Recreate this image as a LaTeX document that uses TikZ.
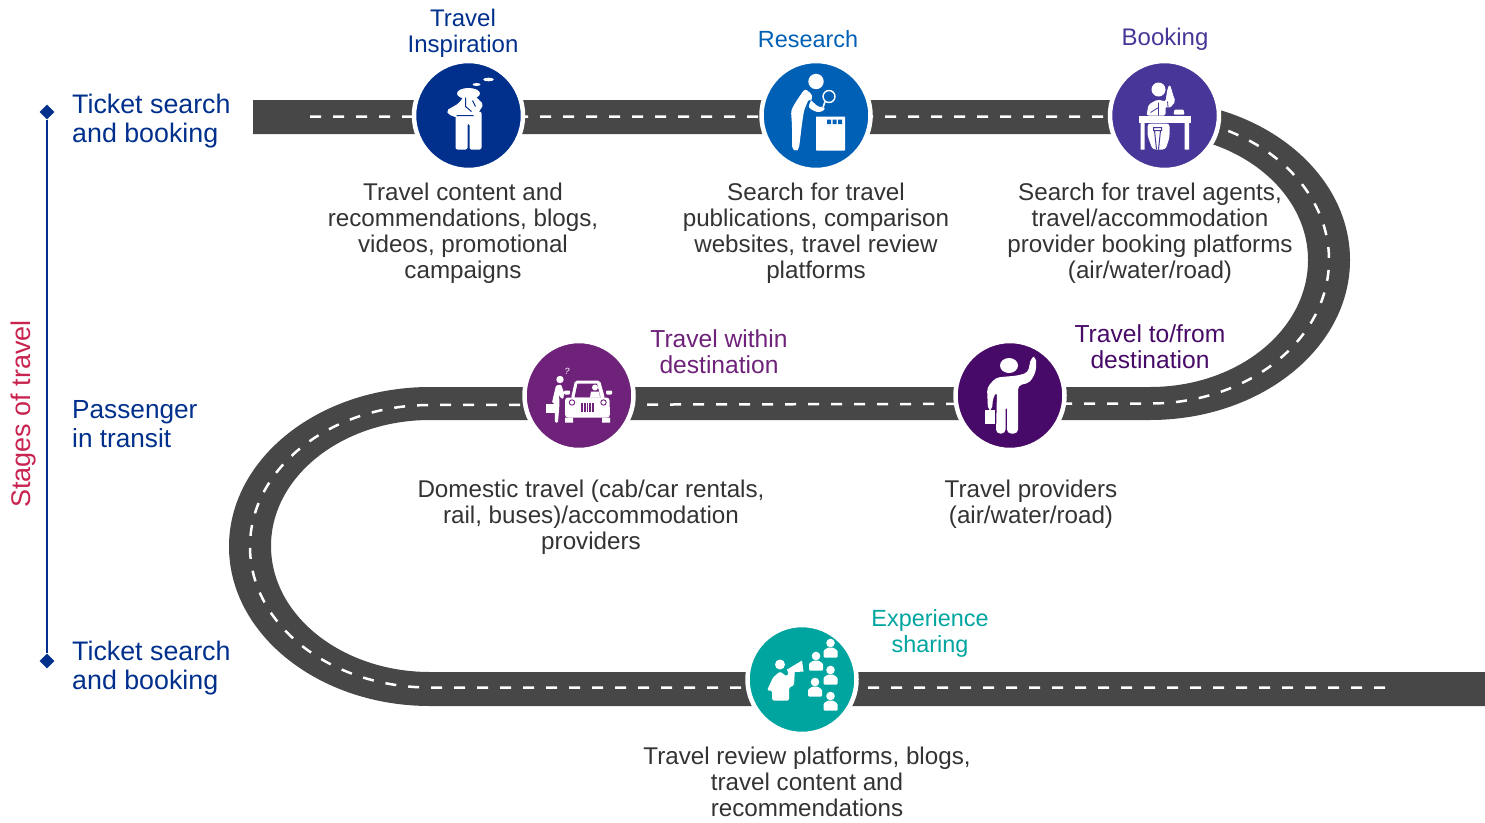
\documentclass[tikz,border=0pt]{standalone}
\usepackage{fontspec}
\setmainfont{Liberation Sans}
\definecolor{navy}{HTML}{00308C}
\definecolor{midblue}{HTML}{0060B5}
\definecolor{violetb}{HTML}{483698}
\definecolor{plum}{HTML}{6E2279}
\definecolor{deepplum}{HTML}{470A68}
\definecolor{tealc}{HTML}{00A5A0}
\definecolor{roadc}{HTML}{474747}
\definecolor{bodytext}{HTML}{333333}
\definecolor{stagered}{HTML}{C8244F}
\newcommand{\audmember}[2]{%
  \begin{scope}[shift={(#1,#2)}]
    \fill[white] (0,-4.5) circle [radius=4.3];
    \fill[white,rounded corners=1pt] (-7,10) -- (-7,3) -- (-2.5,0) -- (2.5,0) -- (7,3) -- (7,10) -- cycle;
  \end{scope}}
\tikzset{
  x=1pt,y=-1pt,
  disc/.style={circle,draw=white,line width=4.5pt,minimum size=109pt,inner sep=0pt},
  desc/.style={align=center,text=bodytext,font=\fontsize{24.2}{26}\selectfont,inner sep=0pt},
  head/.style={align=center,font=\fontsize{24}{26}\selectfont,inner sep=0pt},
  stagelabel/.style={align=left,anchor=west,text=navy,font=\fontsize{26.8}{29}\selectfont,inner sep=0pt},
  endmark/.style={diamond,fill=navy,minimum size=15pt,inner sep=0pt},
  lane/.style={white,line width=2.5pt,dash pattern=on 11pt off 12pt},
}
\usetikzlibrary{shapes.geometric}
\begin{document}
\begin{tikzpicture}
\useasboundingbox (0,0) rectangle (1485,822);
% road
\fill[roadc] (253,100) -- (1150,100)
  .. controls (1260.5,100) and (1350,171.6) .. (1350,260)
  .. controls (1350,348.4) and (1260.5,420) .. (1150,420)
  -- (430,420)
  .. controls (342.2,420) and (271,476.4) .. (271,546)
  .. controls (271,615.6) and (342.2,672) .. (430,672)
  -- (1485,672) -- (1485,706) -- (430,706)
  .. controls (319,706) and (229,634.6) .. (229,546.5)
  .. controls (229,458.4) and (319,387) .. (430,387)
  -- (1150,387)
  .. controls (1237.3,387) and (1308,330.4) .. (1308,260)
  .. controls (1308,190.4) and (1237.3,134) .. (1150,134)
  -- (253,134) -- cycle;
\draw[lane] (310,116.5) -- (1150,116.5)
  .. controls (1248.9,116.5) and (1329,181) .. (1329,260)
  .. controls (1329,339) and (1248.9,403.5) .. (1150,403.5)
  -- (430,405)
  .. controls (330.6,405) and (250,468) .. (250,546.5)
  .. controls (250,625) and (330.6,687.5) .. (430,687.5)
  -- (1390,687.5);
% discs
\node[disc,fill=navy] (insp) at (468.5,115.5) {};
\node[disc,fill=midblue] (res) at (816,115.5) {};
\node[disc,fill=violetb] (book) at (1164.5,115.5) {};
\node[disc,fill=plum] (within) at (579,395.5) {};
\node[disc,fill=deepplum] (tofrom) at (1010,395.5) {};
\node[disc,fill=tealc] (share) at (802,679.5) {};
% icon 1: thinking man
\begin{scope}[shift={(insp.center)}]
  \fill[white] (20,-36) ellipse [x radius=5.3,y radius=1.8];
  \fill[white] (8,-31) ellipse [x radius=4,y radius=1.4];
  \fill[white] (0,-22) ellipse [x radius=11.5,y radius=5.5];
  \fill[white,rounded corners=2pt] (-13,-4) -- (-13,34) -- (-1,34) -- (-1,8) -- (1,8) -- (1,34) -- (13,34) -- (13,-4) -- cycle;
  \fill[white,rounded corners=2pt] (-22,-5) -- (-10,-12) -- (-4,-20) -- (6,-20) -- (15,-11) -- (10,-3) -- (5,2) -- (-12,2) -- (-20,-1) -- cycle;
  \draw[navy,line width=1pt] (-3,-18) -- (-3,-9) -- (3,-4) (4,-15) -- (7,-9) (-12,0) -- (5,0);
\end{scope}
% icon 2: researcher
\begin{scope}[shift={(res.center)}]
  \fill[white] (0,-34) circle [radius=7.7];
  \fill[white,rounded corners=3pt] (-11,-27) -- (-20,-14) -- (-25,-5) -- (-24,10) -- (-24,33) -- (-20,36) -- (-17,33) -- (-14,8) -- (-12,-5) -- (-7,-17) -- (3,-8) -- (8,-9) -- (9,-5) -- (1,-3) -- (-8,-8) -- (-3,-20) -- cycle;
  \draw[white,line width=1.4pt] (13,-19) circle [radius=6];
  \draw[white,line width=1.6pt] (9,-14) -- (7,-8);
  \fill[white,rounded corners=.7pt] (0,1) rectangle (29,35);
  \fill[midblue] (11,4) rectangle (15,8.5) (16.5,4) rectangle (20.5,8.5) (22,4) rectangle (26,8.5);
\end{scope}
% icon 3: booking desk
\begin{scope}[shift={(book.center)}]
  \fill[white] (-6,-26) circle [radius=7];
  \fill[white,rounded corners=2pt] (-18,0) -- (-16,-11) -- (-7,-16) -- (1,-14) -- (3,-27) -- (5,-31) -- (7,-27) -- (8,-22) -- (11,-14) -- (5,-7) -- (1,-9) -- (1,0) -- cycle;
  \draw[violetb,line width=.8pt] (-6,-13) -- (-6,0) (-14,-3) -- (-6,-8) (3,-14) -- (4,-3) -- (10,-3);
  \fill[white,rounded corners=1pt] (9,-1) -- (10,-6) -- (19,-6) -- (20,-1) -- cycle;
  \fill[white] (-26,0) rectangle (26,7);
  \fill[white] (-24,7) rectangle (-20,34) (20,7) rectangle (24.5,34);
  \fill[white,rounded corners=3pt] (-17,8) -- (5,8) -- (5,22) -- (1,34) -- (-12,34) -- (-17,20) -- cycle;
  \draw[violetb,line width=1pt] (-11,12) rectangle (-3,15) (-10,15) -- (-8,34) (-4,15) -- (-6,34);
\end{scope}
% icon 4: person and car
\begin{scope}[shift={(within.center)}]
  \fill[white] (-19,-16) circle [radius=3.7];
  \node[white,font=\fontsize{9}{9}\selectfont\itshape,inner sep=0pt] (quest) at (-12,-24) {?};
  \fill[white,rounded corners=1pt] (-23,-10) -- (-18,-11) -- (-15,-3) -- (-15.5,3) -- (-18,3) -- (-20,-1) -- (-19.5,8) -- (-21,27) -- (-24,27) -- (-24.5,8) -- (-27,7) -- cycle;
  \fill[white] (-33.5,8) rectangle (-24.5,17.5);
  \fill[white,rounded corners=2pt] (-8,3) -- (-4,-15) -- (21,-15) -- (26,3) -- cycle;
  \fill[plum] (-4.5,2) -- (-1.5,-12) -- (18,-12) -- (21.5,2) -- cycle;
  \fill[white] (16,-8) circle [radius=3];
  \fill[white] (11,2) -- (12,-4) -- (20,-4) -- (21,2) -- cycle;
  \fill[white,rounded corners=3pt] (-14,2) -- (30.5,2) -- (31,22) -- (-14,22) -- cycle;
  \fill[white] (-14,22) rectangle (-6,27) (23,22) rectangle (31,27);
  \fill[white,rounded corners=1pt] (-15,-5) rectangle (-9,-1) (27,-5) rectangle (33,-1);
  \draw[plum,line width=.9pt] (-7,7) circle [radius=2.7] (24.5,7) circle [radius=2.7];
  \fill[plum] (2,7) rectangle (15,16);
  \draw[white,line width=.8pt] (4.5,7) -- (4.5,16) (7,7) -- (7,16) (9.5,7) -- (9.5,16) (12,7) -- (12,16);
\end{scope}
% icon 5: waving traveller
\begin{scope}[shift={(tofrom.center)}]
  \fill[white] (-1,-30) ellipse [x radius=9,y radius=7.5];
  \fill[white,rounded corners=4pt] (-22,15) -- (-23,-8) -- (-14,-18) -- (8,-20) -- (18,-23) -- (21,-38) -- (26,-39) -- (26,-24) -- (20,-13) -- (8,-10) -- (8,38) -- (-3,38) -- (-3,10) -- (-4.5,10) -- (-4.5,38) -- (-14,38) -- (-13,-4) -- (-17,2) -- (-18,15) -- cycle;
  \fill[white] (-25,14) rectangle (-15.5,28);
\end{scope}
% icon 6: speaker and audience
\begin{scope}[shift={(share.center)}]
  \fill[white] (-22,-15) circle [radius=5];
  \fill[white,rounded corners=1.5pt] (-35,11) -- (-29,-2) -- (-22,-8) -- (-15,-3) -- (-12,-12) -- (-7,-12) -- (-8,6) -- (-13,8) -- (-13,21) -- (-30,21) -- (-30,11) -- cycle;
  \fill[white] (-15,-10) -- (0,-19) -- (1.5,-8) -- (-14,-7) -- cycle;
  \audmember{14}{-19}
  \audmember{28.5}{-32}
  \audmember{28.5}{-5}
  \audmember{13}{7}
  \audmember{28.5}{21}
\end{scope}
% left axis
\node[endmark] (axtop) at (47,112) {};
\node[endmark] (axbot) at (47,661) {};
\draw[navy,line width=2pt] (axtop) -- (axbot);
\node[rotate=90,text=stagered,font=\fontsize{27}{29}\selectfont,inner sep=0pt] (stages) at (24,414) {Stages of travel};
\node[stagelabel] (s1) at (72,121) {Ticket search\\and booking};
\node[stagelabel,font=\fontsize{26.2}{29}\selectfont] (s2) at (72,424) {Passenger\\in transit};
\node[stagelabel] (s3) at (72,668) {Ticket search\\and booking};
% headings
\node[head,text=navy] (h1) at (463,33) {Travel\\Inspiration};
\node[head,text=midblue,font=\fontsize{23.4}{26}\selectfont] (h2) at (808,39) {Research};
\node[head,text=violetb] (h3) at (1165,39) {Booking};
\node[head,text=plum,font=\fontsize{24.6}{26}\selectfont] (h4) at (719,352) {Travel within\\destination};
\node[head,text=deepplum,font=\fontsize{24.6}{26}\selectfont] (h5) at (1150,347) {Travel to/from\\destination};
\node[head,text=tealc,font=\fontsize{23.4}{26}\selectfont] (h6) at (930,633) {Experience\\sharing};
% descriptions
\node[desc] (d1) at (463,233) {Travel content and\\recommendations, blogs,\\videos, promotional\\campaigns};
\node[desc] (d2) at (816,233) {Search for travel\\publications, comparison\\websites, travel review\\platforms};
\node[desc] (d3) at (1150,233) {Search for travel agents,\\travel/accommodation\\provider booking platforms\\(air/water/road)};
\node[desc] (d4) at (591,517) {Domestic travel (cab/car rentals,\\rail, buses)/accommodation\\providers};
\node[desc] (d5) at (1031,504) {Travel providers\\(air/water/road)};
\node[desc] (d6) at (807,782) {Travel review platforms, blogs,\\travel content and\\recommendations};
\end{tikzpicture}
\end{document}
